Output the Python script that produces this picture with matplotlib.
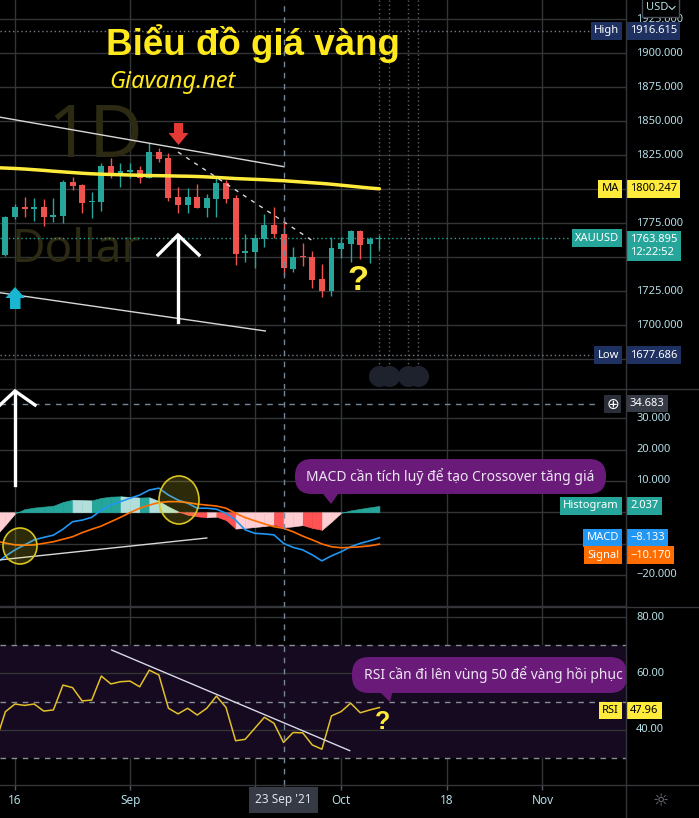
import numpy as np
import matplotlib.pyplot as plt
from matplotlib.patches import FancyBboxPatch, Polygon, Ellipse, Rectangle
from matplotlib.transforms import blended_transform_factory

plt.rcParams['font.family'] = ['Noto Sans', 'DejaVu Sans']

# --- dữ liệu nến ngày XAUUSD (chỉ số 0 = 16/08/2021) ---
candle_idx = list(range(-1, 39))
opens = [1751.5, 1779.2, 1786.6, 1785.1, 1786.6, 1779.2, 1780.4, 1805.5, 1803.0, 1790.3,
         1790.8, 1817.3, 1809.6, 1812.8, 1814.1, 1808.4, 1827.6, 1822.7, 1794.0, 1788.3,
         1794.0, 1786.3, 1792.7, 1804.7, 1793.7, 1752.7, 1753.9, 1763.3, 1773.6, 1766.9,
         1741.2, 1750.6, 1750.3, 1733.8, 1725.0, 1756.2, 1759.6, 1769.4, 1759.3, 1763.5]
highs = [1780.0, 1789.0, 1794.4, 1793.2, 1792.5, 1793.2, 1806.7, 1808.7, 1803.5, 1797.6,
         1819.5, 1822.7, 1819.5, 1819.5, 1817.0, 1833.7, 1830.0, 1826.8, 1801.3, 1800.6,
         1803.8, 1796.4, 1808.7, 1806.7, 1795.7, 1766.9, 1766.9, 1781.7, 1787.0, 1775.9,
         1757.6, 1760.1, 1754.7, 1744.9, 1764.5, 1764.5, 1769.9, 1769.9, 1765.0, 1766.2]
lows = [1750.9, 1778.0, 1779.7, 1776.8, 1772.8, 1776.0, 1775.3, 1799.3, 1782.2, 1779.0,
        1784.1, 1807.9, 1801.3, 1807.9, 1804.3, 1807.9, 1820.2, 1791.5, 1782.2, 1782.2,
        1785.8, 1779.7, 1779.7, 1790.0, 1744.1, 1746.6, 1741.7, 1757.2, 1763.8, 1736.8,
        1739.2, 1743.4, 1727.0, 1720.8, 1721.6, 1749.0, 1746.6, 1748.3, 1745.4, 1755.2]
closes = [1779.7, 1786.6, 1785.1, 1786.6, 1779.2, 1780.9, 1805.5, 1802.3, 1790.0, 1791.5,
          1817.3, 1809.6, 1813.6, 1814.1, 1808.0, 1827.6, 1822.2, 1793.2, 1788.3, 1794.0,
          1786.3, 1793.2, 1804.7, 1792.7, 1752.2, 1754.4, 1763.8, 1773.6, 1766.9, 1741.7,
          1750.3, 1750.0, 1733.1, 1725.0, 1756.9, 1760.6, 1769.4, 1758.9, 1763.0, 1763.9]

ind_idx = list(range(-2, 39))
ma_vals = [1815.8, 1815.5, 1815.2, 1814.8, 1814.3, 1813.8, 1813.2, 1812.7, 1812.2, 1811.7,
           1811.3, 1811.0, 1810.8, 1810.6, 1810.4, 1810.2, 1810.0, 1809.9, 1809.8, 1809.6,
           1809.5, 1809.3, 1809.0, 1808.6, 1808.2, 1807.8, 1807.5, 1807.2, 1806.9, 1806.5,
           1806.2, 1805.7, 1805.2, 1804.7, 1804.2, 1803.6, 1802.9, 1802.2, 1801.5, 1800.8, 1800.25]
macd_vals = [-16.3, -14.0, -12.0, -10.4, -8.8, -8.0, -7.3, -5.4, -3.0, -2.5, -1.6, 0.7, 2.3,
             3.4, 4.5, 5.5, 7.1, 7.7, 5.5, 3.9, 2.9, 1.3, 1.3, 1.0, -0.3, -2.5, -5.6, -6.7,
             -6.9, -7.2, -9.9, -11.2, -12.0, -13.6, -15.5, -13.9, -12.6, -11.0, -9.9, -9.1, -8.13]
signal_vals = [-9.2, -9.8, -10.4, -10.5, -10.4, -9.9, -9.4, -8.6, -7.8, -6.5, -5.4, -4.4, -3.0,
               -1.6, -0.1, 1.3, 2.3, 3.1, 3.4, 3.4, 3.1, 2.6, 2.3, 2.0, 1.3, -0.3, -1.7, -2.7,
               -3.7, -4.6, -5.1, -6.2, -7.6, -8.8, -10.1, -11.0, -11.3, -11.2, -11.0, -10.7, -10.17]
hist_vals = [-7.5, -4.0, -0.4, 1.0, 1.5, 1.8, 2.1, 3.3, 4.0, 3.9, 3.8, 4.6, 5.0, 5.1, 4.9, 4.7,
             4.8, 3.6, 1.8, 0.3, -0.8, -1.3, -1.6, -1.4, -2.5, -5.2, -5.0, -4.7, -4.4, -4.0,
             -4.8, -4.5, -4.1, -5.0, -5.6, -3.0, -0.2, 0.6, 1.1, 1.6, 2.04]
rsi_vals = [36.0, 46.5, 49.2, 48.7, 49.2, 46.7, 47.1, 55.9, 55.0, 50.3, 50.6, 59.1, 56.3, 57.1,
            57.3, 55.3, 61.2, 59.5, 47.7, 45.7, 47.7, 45.3, 47.7, 52.0, 48.0, 36.2, 36.7, 40.6,
            44.5, 42.4, 35.6, 39.1, 39.0, 34.7, 33.2, 45.0, 46.5, 49.5, 46.1, 47.1, 47.96]

price_ticks = [1700, 1725, 1775, 1825, 1850, 1875, 1900, 1925]
macd_ticks = [30, 20, 10, -20]
rsi_ticks = [80, 40, 60]
grid_idx = [0, 12, 25, 34, 45, 55]
time_idx = [0, 12, 34, 45, 55]
time_labels = ['16', 'Sep', 'Oct', '18', 'Nov']
cross_idx = 28
event_idx = [38, 39, 41, 42]

BG = '#000000'
GRID = '#333436'
AXTXT = '#b4dde6'
UP, DN = '#26a69a', '#ef5350'
PURPLE = '#6a1b7a'
YEL = '#ffe81c'
BOLD = 'Liberation Sans'

W, H = 699, 818
fig = plt.figure(figsize=(W / 100, H / 100), dpi=100, facecolor=BG)


def pane(top, bottom, ylim):
    ax = fig.add_axes([0, 1 - bottom / H, 626 / W, (bottom - top) / H])
    ax.set_facecolor(BG)
    ax.set_xlim(-1.564, 63.71)
    ax.set_ylim(*ylim)
    ax.set_xticks([])
    ax.set_yticks([])
    for s in ax.spines.values():
        s.set_visible(False)
    for g in grid_idx:
        ax.axvline(g, color=GRID, lw=1, zorder=0)
    ax.axvline(cross_idx, color='#758696', lw=1, ls=(0, (4, 4)), zorder=8)
    return ax


def tick_label(ax, v, s):
    tr = blended_transform_factory(ax.transAxes, ax.transData)
    ax.text(636 / 626, v, s, transform=tr, color=AXTXT, fontsize=8, va='center', ha='left')


def tag(ax, v, s, fc, tc='white', name=False, dy=0):
    tr = blended_transform_factory(ax.transAxes, ax.transData)
    x, ha = (1 - 7 / 626, 'right') if name else (1 + 4 / 626, 'left')
    ax.annotate(s, xy=(x, v), xycoords=tr, xytext=(0, dy), textcoords='offset pixels',
                ha=ha, va='center', fontsize=8, color=tc, annotation_clip=False, zorder=20,
                bbox=dict(boxstyle='square,pad=0.3', fc=fc, ec='none'))


# ---------------- price pane ----------------
ax_p = pane(0, 389, (1652.9, 1939.2))
for v in range(1675, 1950, 25):
    ax_p.axhline(v, color=GRID, lw=1, zorder=0)
for v in price_ticks:
    tick_label(ax_p, v, f'{v:.3f}')

for x, o, h, l, c in zip(candle_idx, opens, highs, lows, closes):
    col = UP if c >= o else DN
    ax_p.vlines(x, l, h, color=col, lw=1, zorder=3)
    ax_p.bar(x, max(abs(c - o), 0.6), bottom=min(o, c), width=0.62, color=col, zorder=4)

ax_p.plot(ind_idx, ma_vals, color='#ffeb3b', lw=2.5, zorder=5, solid_capstyle='round')

# drawings
ax_p.plot([-1.6, 28.05], [1853.0, 1816.5], color='#d8d8d8', lw=1, zorder=6)
ax_p.plot([-1.6, 26.1], [1723.8, 1695.6], color='#d8d8d8', lw=1, zorder=6)
ax_p.plot([17.0, 30.9], [1827.3, 1762.6], color='#d8d8d8', lw=1, ls=(0, (3, 4)), zorder=6)

ax_p.axhline(1916.615, xmax=589 / 626, color='#787b86', lw=1, ls=(0, (1, 2)), zorder=2)
ax_p.axhline(1677.686, xmax=592 / 626, color='#787b86', lw=1, ls=(0, (1, 2)), zorder=2)
ax_p.axhline(1763.895, xmax=570 / 626, color=UP, lw=1, ls=(0, (1, 2)), zorder=2)
ax_p.vlines(event_idx, 1668, 1939.2, color='#5d6068', lw=1, ls=(0, (1, 2)), zorder=2)
ax_p.scatter(event_idx, [1662.5] * 4, s=230, color='#1e222d', zorder=7, lw=0)

tag(ax_p, 1916.615, '1916.615', '#1e3160')
tag(ax_p, 1916.615, 'High', '#1e3160', name=True)
tag(ax_p, 1800.247, '1800.247', '#ffeb3b', tc='black')
tag(ax_p, 1800.247, 'MA', '#ffeb3b', tc='black', name=True)
tag(ax_p, 1763.895, '1763.895\n12:22:52', UP, dy=-8)
tag(ax_p, 1763.895, 'XAUUSD', UP, name=True)
tag(ax_p, 1677.686, '1677.686', '#1e3160')
tag(ax_p, 1677.686, 'Low', '#1e3160', name=True)

# ---------------- MACD pane ----------------
ax_m = pane(389, 607, (-30.22, 39.34))
for v in range(-30, 40, 10):
    ax_m.axhline(v, color=GRID, lw=1, zorder=0)
for v in macd_ticks:
    tick_label(ax_m, v, f'{v:.3f}'.replace('-', '\u2212'))

hx = np.array(ind_idx, float)
hv = np.array(hist_vals)
for k in range(1, len(hv)):
    cur, prev = hv[k], hv[k - 1]
    if cur >= 0:
        col = '#26a69a' if cur > prev else '#b2dfdb'
    else:
        col = '#ffcdd2' if cur > prev else '#ff5252'
    ax_m.fill_between(hx[k - 1:k + 1], 0, hv[k - 1:k + 1], color=col, lw=0.4, ec=col, zorder=2)
ax_m.plot(ind_idx, macd_vals, color='#2196f3', lw=1.2, zorder=4)
ax_m.plot(ind_idx, signal_vals, color='#ff6d00', lw=1.2, zorder=4)
ax_m.plot([-1.6, 20.0], [-15.2, -8.2], color='#d8d8d8', lw=1, zorder=5)
ax_m.axhline(34.683, xmax=600 / 626, color='#758696', lw=1, ls=(0, (4, 4)), zorder=8)

tag(ax_m, 34.683, '34.683', '#363a45')
tag(ax_m, 2.037, '2.037', UP)
tag(ax_m, 2.037, 'Histogram', UP, name=True)
tag(ax_m, -8.133, '\u22128.133', '#2196f3')
tag(ax_m, -8.133, 'MACD', '#2196f3', name=True)
tag(ax_m, -10.170, '\u221210.170', '#ff6d00', dy=-11)
tag(ax_m, -10.170, 'Signal', '#ff6d00', name=True, dy=-11)

# ---------------- RSI pane ----------------
ax_r = pane(607, 785, (20.53, 83.54))
ax_r.axhspan(30, 70, color='#150a1f', zorder=0, lw=0)
for v in rsi_ticks:
    ax_r.axhline(v, color=GRID, lw=1, zorder=1)
    tick_label(ax_r, v, f'{v:.2f}')
for v in [70, 50, 30]:
    ax_r.axhline(v, color='#8a8d96', lw=1, ls=(0, (4, 4)), zorder=1)
ax_r.plot(ind_idx, rsi_vals, color='#e3c02a', lw=1.1, zorder=4)
ax_r.plot([10.08, 34.9], [68.3, 32.7], color='#d8d8e8', lw=1, zorder=5)
tag(ax_r, 47.96, '47.96', '#ffeb3b', tc='black', dy=-3)
tag(ax_r, 47.96, 'RSI', '#ffeb3b', tc='black', name=True, dy=-3)

# ---------------- time axis ----------------
ax_t = fig.add_axes([0, 0, 626 / W, 33 / H])
ax_t.set_xlim(-1.564, 63.71)
ax_t.set_ylim(0, 1)
ax_t.axis('off')
ax_t.vlines(grid_idx + [cross_idx], 0.85, 1.0, color='#555860', lw=1)
for x, s in zip(time_idx, time_labels):
    ax_t.text(x, 0.53, s, color=AXTXT, fontsize=8.5, ha='center', va='center')
ax_t.text(cross_idx, 0.55, "23 Sep '21", color='#e0e3eb', fontsize=8.5, ha='center', va='center',
          bbox=dict(boxstyle='square,pad=0.55', fc='#363a45', ec='none'))

# ---------------- overlay (pixel space) ----------------
ov = fig.add_axes([0, 0, 1, 1], zorder=10)
ov.set_xlim(0, W)
ov.set_ylim(H, 0)
ov.axis('off')

# watermark drawn behind the candles
ax_p.text(47, 157, '1D', transform=ov.transData, fontsize=53, color='#2c2a12', zorder=1, va='baseline')
ax_p.text(11, 262, 'Dollar', transform=ov.transData, fontsize=33, color='#2c2a12', zorder=1, va='baseline')

# separators
for y in [389, 607, 785]:
    ov.plot([0, W], [y, y], color='#34363c', lw=1)
ov.plot([626, 626], [0, H], color='#34363c', lw=1)

# title
ov.text(106, 55, 'Biểu đồ giá vàng', fontsize=26.5, fontweight='bold', family=BOLD,
        color=YEL, va='baseline')
ov.text(109, 88, 'Giavang.net', fontsize=17, style='italic', color=YEL, va='baseline')

# USD button
ov.add_patch(Rectangle((642, -3), 37, 20, fc=BG, ec='#4a4e59', lw=1))
ov.text(646, 8, 'USD', fontsize=8, color=AXTXT, va='center')
ov.plot([669, 672, 675], [6.5, 9.5, 6.5], color=AXTXT, lw=0.8)

# arrows
ov.plot([178, 178], [236, 322], color='white', lw=2.4)
ov.plot([158, 178, 199], [255, 235, 255], color='white', lw=2.4, solid_joinstyle='miter')
ov.plot([15, 15], [392, 485], color='white', lw=2.4)
ov.plot([0, 15, 35], [405, 391, 405], color='white', lw=2.4, solid_joinstyle='miter')
ov.add_patch(Polygon([(174, 123), (183, 123), (183, 133), (188.5, 133), (178.5, 145),
                      (168.5, 133), (174, 133)], closed=True, fc='#e53935', ec='none'))
ov.add_patch(Polygon([(15, 287), (25, 298), (20.5, 298), (20.5, 309), (10, 309),
                      (10, 298), (5.5, 298)], closed=True, fc='#19b6d2', ec='none'))

ov.text(358, 280, '?', fontsize=25, fontweight='bold', family=BOLD, color='#ffeb3b',
        ha='center', va='center')
ov.text(383, 722, '?', fontsize=18, fontweight='bold', family=BOLD, color='#ffeb3b',
        ha='center', va='center')

# ellipses on MACD
for (cx, cy, ew, eh) in [(20, 546, 34, 36), (179, 500, 40, 48)]:
    ov.add_patch(Ellipse((cx, cy), ew, eh, fc=(1, 0.92, 0.2, 0.18), ec='#d9c51d', lw=1.2))

# speech bubbles
ov.add_patch(FancyBboxPatch((295, 459), 311, 35, boxstyle='round,pad=0,rounding_size=17',
                            fc=PURPLE, ec='none'))
ov.add_patch(Polygon([(320, 490), (341, 490), (331, 504)], closed=True, fc=PURPLE, ec='none'))
ov.text(450, 477, 'MACD cần tích luỹ để tạo Crossover tăng giá', fontsize=10, color='#ece6f0',
        ha='center', va='center')
ov.add_patch(FancyBboxPatch((352, 657), 275, 36, boxstyle='round,pad=0,rounding_size=17',
                            fc=PURPLE, ec='none'))
ov.add_patch(Polygon([(378, 690), (393, 690), (390, 702)], closed=True, fc=PURPLE, ec='none'))
ov.text(493, 675, 'RSI cần đi lên vùng 50 để vàng hồi phục', fontsize=10, color='#ece6f0',
        ha='center', va='center')

# crosshair plus button
ov.text(612.5, 404, '\u2295', fontsize=11, color='white', ha='center', va='center',
        family='DejaVu Sans', bbox=dict(boxstyle='square,pad=0.12', fc='#2a2e39', ec='none'))

# settings gear
ov.text(661, 801, '\u263c', fontsize=13, color='#787b86', ha='center', va='center', family='DejaVu Sans')

fig.savefig('out.png', dpi=100, facecolor=BG)
